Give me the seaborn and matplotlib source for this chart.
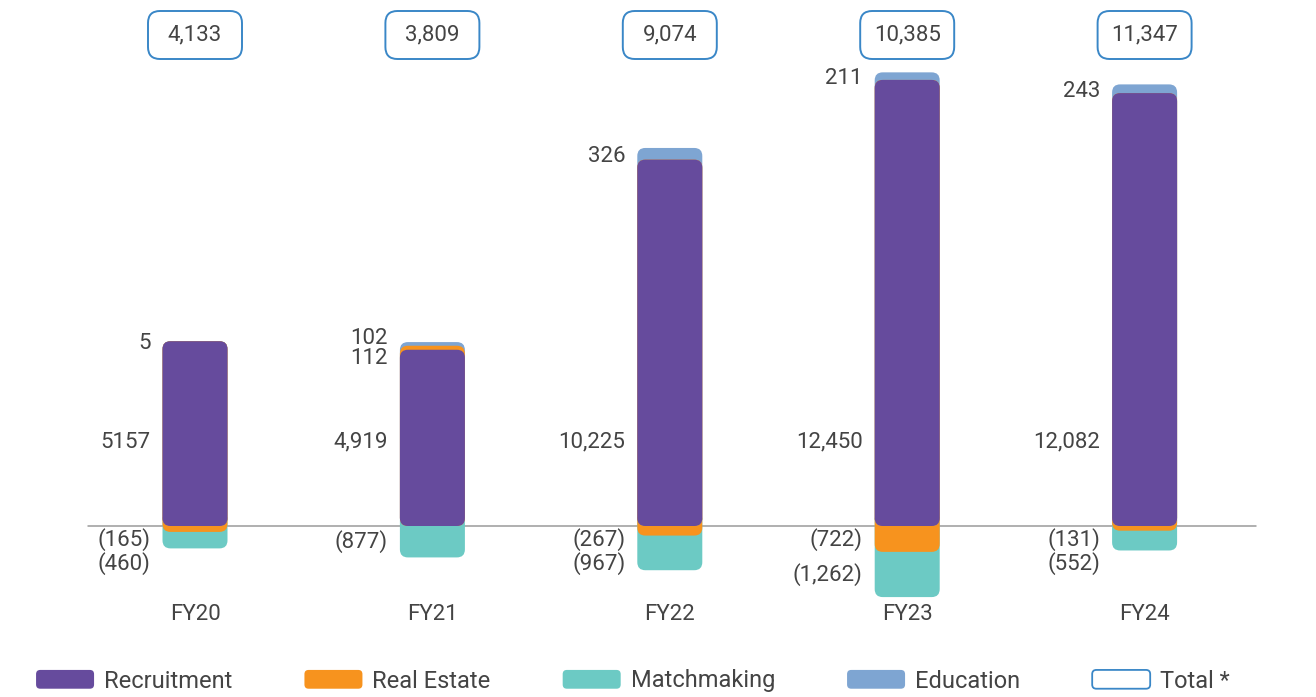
import numpy as np
import pandas as pd
import matplotlib
matplotlib.use("Agg")
import matplotlib.pyplot as plt
import seaborn as sns
from matplotlib.patches import FancyBboxPatch, Patch
from matplotlib.legend_handler import HandlerPatch

# data
years = ["FY20", "FY21", "FY22", "FY23", "FY24"]
recruitment = [5157, 4919, 10225, 12450, 12082]
real_estate = [-165, 112, -267, -722, -131]
matchmaking = [-460, -877, -967, -1262, -552]
education = [5, 102, 326, 211, 243]
totals = [4133, 3809, 9074, 10385, 11347]
recruitment_labels = ["5157", "4,919", "10,225", "12,450", "12,082"]

PURPLE = "#664b9d"
ORANGE = "#f7931e"
TEAL = "#6ccac4"
BLUE = "#7ea5d2"
BOX_EDGE = "#3a87c7"
TEXT = "#444444"

sns.set_theme(style="white")
plt.rcParams["font.family"] = ["Roboto", "DejaVu Sans"]

W, H, DPI = 13.16, 6.97, 100
fig = plt.figure(figsize=(W, H), dpi=DPI)
ax = fig.add_axes([0, 0, 1, 1])

# pixel layout of the reference: bar centres and zero line
px_x0, px_step = 195.0, 237.4
px_zero, px_per_unit = 526.0, 0.03583
xlim = (-px_x0 / px_step, (W * DPI - px_x0) / px_step)
ylim = (-(H * DPI - px_zero) / px_per_unit, px_zero / px_per_unit)


def px(n):
    """pixels -> data units on y"""
    return n / px_per_unit


rec = np.array(recruitment, float)
re_ = np.array(real_estate, float)
mm = np.array(matchmaking, float)
edu = np.array(education, float)

pos_re = rec + np.clip(re_, 0, None)
pos_edu = pos_re + edu
neg_re = np.clip(re_, None, 0)
neg_mm = neg_re + mm

# back to front: negative layers first, purple on top
layers = [
    (neg_mm, TEAL, True),
    (neg_re, ORANGE, True),
    (pos_edu, BLUE, False),
    (pos_re, ORANGE, False),
    (rec, PURPLE, False),
]

bar_w = 65 / px_step
raw = []
for values, color, neg in layers:
    df = pd.DataFrame({"year": years, "value": values})
    n0 = len(ax.patches)
    sns.barplot(data=df, x="year", y="value", order=years, color=color,
                saturation=1, width=bar_w, errorbar=None, ax=ax)
    raw.append((ax.patches[n0:], color, neg))

ax.set_xlim(*xlim)
ax.set_ylim(*ylim)
ax.axis("off")

aspect = (px_step) / px_per_unit
radius = 8 / px_step
overlap = px(14)

for patches, color, neg in raw:
    for p in list(patches):
        x, w = p.get_x(), p.get_width()
        y, h = p.get_y(), p.get_height()
        p.remove()
        if abs(h) < 1e-9:
            continue
        y0, y1 = min(y, y + h), max(y, y + h)
        if neg:
            y1 = overlap
        ax.add_patch(FancyBboxPatch(
            (x, y0), w, y1 - y0,
            boxstyle=f"round,pad=0,rounding_size={radius}",
            mutation_aspect=aspect, facecolor=color, edgecolor="none"))

ax.plot([(88 - px_x0) / px_step, (1256 - px_x0) / px_step], [0, 0],
        color="#9a9a9a", lw=1.1, zorder=0.5)


def paren(v):
    return f"({abs(v):,.0f})"


fs = 16
gap = 12 / px_step
for i in range(len(years)):
    lx = i - bar_w / 2 - gap
    # recruitment label sits at a fixed height
    ax.text(lx, px(84), recruitment_labels[i], ha="right", va="center",
            fontsize=fs, color=TEXT)

    # small positive segments, labelled at their centres, pushed apart
    ups = []
    if real_estate[i] > 0:
        ups.append([rec[i] + re_[i] / 2, f"{real_estate[i]:,}"])
    ups.append([pos_re[i] + edu[i] / 2, f"{education[i]:,}"])
    if len(ups) == 2 and ups[1][0] - ups[0][0] < px(20):
        d = (px(20) - (ups[1][0] - ups[0][0])) / 2
        ups[0][0] -= d
        ups[1][0] += d
    for yv, s in ups:
        ax.text(lx, yv - px(2.5), s, ha="right", va="center",
                fontsize=fs, color=TEXT)

    # negative segments
    downs = []
    if real_estate[i] < 0:
        downs.append([neg_re[i] / 2, paren(real_estate[i])])
    downs.append([neg_re[i] + mm[i] / 2, paren(matchmaking[i])])
    last = None
    for item in downs:
        yv = min(item[0], -px(14))
        if last is not None:
            yv = min(yv, last - px(24))
        last = yv
        ax.text(lx, yv, item[1], ha="right", va="center",
                fontsize=fs, color=TEXT)

    # category label
    ax.text(i, px(526 - 615), years[i], ha="center", va="center",
            fontsize=fs, color=TEXT)

    # total box
    bw, bh = 94 / px_step, px(48)
    cy = px(526 - 35)
    ax.add_patch(FancyBboxPatch(
        (i - bw / 2, cy - bh / 2), bw, bh,
        boxstyle=f"round,pad=0,rounding_size={12 / px_step}",
        mutation_aspect=aspect, facecolor="white", edgecolor=BOX_EDGE, lw=1.4))
    ax.text(i, cy, f"{totals[i]:,}", ha="center", va="center",
            fontsize=fs, color=TEXT)


class RoundHandler(HandlerPatch):
    def create_artists(self, legend, orig_handle, xdescent, ydescent,
                       width, height, fontsize, trans):
        p = FancyBboxPatch((-xdescent, -ydescent), width, height,
                           boxstyle="round,pad=0,rounding_size=3",
                           facecolor=orig_handle.get_facecolor(),
                           edgecolor=orig_handle.get_edgecolor(),
                           lw=orig_handle.get_linewidth(), transform=trans)
        return [p]


handles = [
    Patch(facecolor=PURPLE, edgecolor="none", label="Recruitment"),
    Patch(facecolor=ORANGE, edgecolor="none", label="Real Estate"),
    Patch(facecolor=TEAL, edgecolor="none", label="Matchmaking"),
    Patch(facecolor=BLUE, edgecolor="none", label="Education"),
    Patch(facecolor="white", edgecolor=BOX_EDGE, lw=1.3, label="Total *"),
]
lfs = 17
lpx = lfs * DPI / 72
fig.legend(handles=handles, handler_map={Patch: RoundHandler()},
           loc="center", bbox_to_anchor=(633 / 1316, 16 / 697), ncol=5,
           frameon=False, fontsize=lfs, labelcolor=TEXT,
           handlelength=58 / lpx, handleheight=20 / lpx,
           handletextpad=10 / lpx, columnspacing=72 / lpx,
           borderpad=0, borderaxespad=0)

fig.savefig("out.png", dpi=DPI)
